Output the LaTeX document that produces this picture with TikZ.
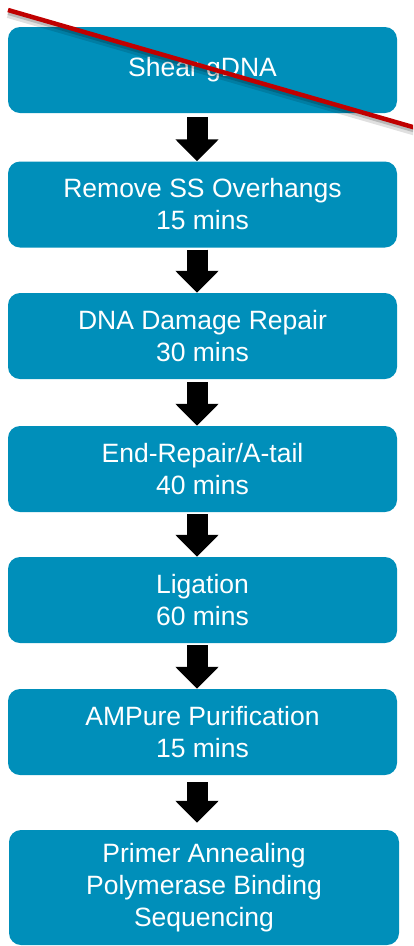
\documentclass[tikz,border=0pt]{standalone}
\usepackage{fontspec}
\setmainfont{Liberation Sans}
\usetikzlibrary{arrows.meta}
\definecolor{stepblue}{RGB}{0,143,186}
\definecolor{crossred}{RGB}{192,0,0}
\tikzset{
	stepbox/.style={fill=stepblue, text=white, rounded corners=12pt, inner sep=0pt,
		minimum width=389pt, minimum height=86pt, align=center,
		font=\fontsize{26.5}{32}\selectfont},
	flow/.style={line width=21pt, -{Triangle[width=42pt,length=22pt]}}
}
\begin{document}
\begin{tikzpicture}[x=1pt,y=-1pt]
	\useasboundingbox (0,0) rectangle (413,946);

	\node[stepbox] (s1) at (202.5,70) {Shear gDNA};
	\node[stepbox] (s2) at (202.5,204.5) {Remove SS Overhangs\\15 mins};
	\node[stepbox] (s3) at (202.5,336) {DNA Damage Repair\\30 mins};
	\node[stepbox] (s4) at (202.5,469) {End-Repair/A-tail\\40 mins};
	\node[stepbox] (s5) at (202.5,600) {Ligation\\60 mins};
	\node[stepbox] (s6) at (202.5,732) {AMPure Purification\\15 mins};
	\node[stepbox, minimum width=390pt, minimum height=115pt] (s7) at (204,887.5)
		{Primer Annealing\\Polymerase Binding\\Sequencing};

	\foreach \i / \j / \s in {1/2/4, 2/3/2, 3/4/3, 4/5/2, 5/6/2}
	{
		\draw[flow, shorten <=\s pt] ([xshift=-5.5pt]s\i.south) -- ([xshift=-5.5pt]s\j.north);
	};
	\draw[flow, shorten <=7pt, shorten >=7pt] ([xshift=-5.5pt]s6.south) -- ([xshift=-7pt]s7.north);

	% crossed out
	\coordinate (c1) at (8,10);
	\coordinate (c2) at (430,132);
	\begin{scope}
		\clip (0,0) rectangle (413,946);
		\draw[black, opacity=0.12, line width=8pt] ([yshift=-4pt]c1) -- ([yshift=-4pt]c2);
		\draw[black, opacity=0.18, line width=4pt] ([yshift=-3pt]c1) -- ([yshift=-3pt]c2);
		\draw[crossred, line width=4.5pt] (c1) -- (c2);
	\end{scope}
\end{tikzpicture}
\end{document}
